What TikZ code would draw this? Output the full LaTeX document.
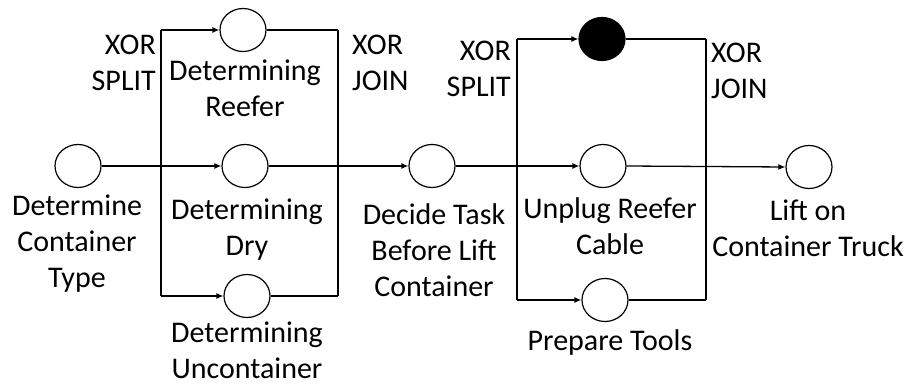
\documentclass[tikz,border=0pt]{standalone}
\usepackage{fontspec}
\setmainfont{Carlito}
\usetikzlibrary{shapes.geometric,arrows.meta}
\begin{document}
\begin{tikzpicture}[x=1pt,y=-1pt,
  place/.style={draw,ellipse,line width=1.2pt,minimum width=46pt,minimum height=43pt,inner sep=0pt},
  blackplace/.style={place,fill=black},
  lbl/.style={align=center,inner sep=0pt,font=\fontsize{30}{36}\selectfont},
  conn/.style={line width=1.3pt},
  arr/.style={conn,-{Latex[length=7pt,width=6pt]}}]
\useasboundingbox (0,0) rectangle (909,387);
% places
\node[place] (dct) at (78,166) {};
\node[place] (reefer) at (243,30) {};
\node[place] (dry) at (245,166) {};
\node[place] (unc) at (247,296) {};
\node[place] (decide) at (432,166) {};
\node[blackplace] (black) at (602,39) {};
\node[place] (unplug) at (603,166) {};
\node[place] (prep) at (605,300) {};
\node[place] (lift) at (809,167) {};
% gateway bars
\coordinate (s1t) at (161,30);
\coordinate (s1b) at (161,296);
\coordinate (j1t) at (338,30);
\coordinate (j1b) at (338,296);
\coordinate (s2t) at (517,39);
\coordinate (s2b) at (517,300);
\coordinate (j2t) at (706,39);
\coordinate (j2b) at (706,300);
\draw[conn] (s1t) -- (s1b);
\draw[conn] (j1t) -- (j1b);
\draw[conn] (s2t) -- (s2b);
\draw[conn] (j2t) -- (j2b);
% connectors
\draw[arr] (dct.east) -- (dry.west);
\draw[arr] (s1t) -- (reefer.west);
\draw[arr] (s1b) -- (unc.west);
\draw[conn] (reefer.east) -- (j1t);
\draw[conn] (unc.east) -- (j1b);
\draw[arr] (dry.east) -- (decide.west);
\draw[arr] (decide.east) -- (unplug.west);
\draw[arr] (s2t) -- (black.west);
\draw[arr] (s2b) -- (prep.west);
\draw[conn] (black.east) -- (j2t);
\draw[conn] (prep.east) -- (j2b);
\draw[arr] (unplug.east) -- (lift.west);
% labels
\node[lbl,align=right,anchor=east] (xs1) at (156,63) {XOR\\SPLIT};
\node[lbl,align=left,anchor=west] (xj1) at (352,63) {XOR\\JOIN};
\node[lbl,align=right,anchor=east] (xs2) at (511,69) {XOR\\SPLIT};
\node[lbl,align=left,anchor=west] (xj2) at (711,71) {XOR\\JOIN};
\node[lbl] (lreefer) at (245,88) {Determining\\Reefer};
\node[lbl] (ldct) at (77,244) {Determine\\Container\\Type};
\node[lbl] (ldry) at (247,230) {Determining\\Dry};
\node[lbl] (lunc) at (247,350) {Determining\\Uncontainer};
\node[lbl] (ldecide) at (434,250) {Decide Task\\Before Lift\\Container};
\node[lbl] (lunplug) at (610,226) {Unplug Reefer\\Cable};
\node[lbl] (lprep) at (610,342) {Prepare Tools};
\node[lbl] (llift) at (808,228) {Lift on\\Container Truck};
\end{tikzpicture}
\end{document}
